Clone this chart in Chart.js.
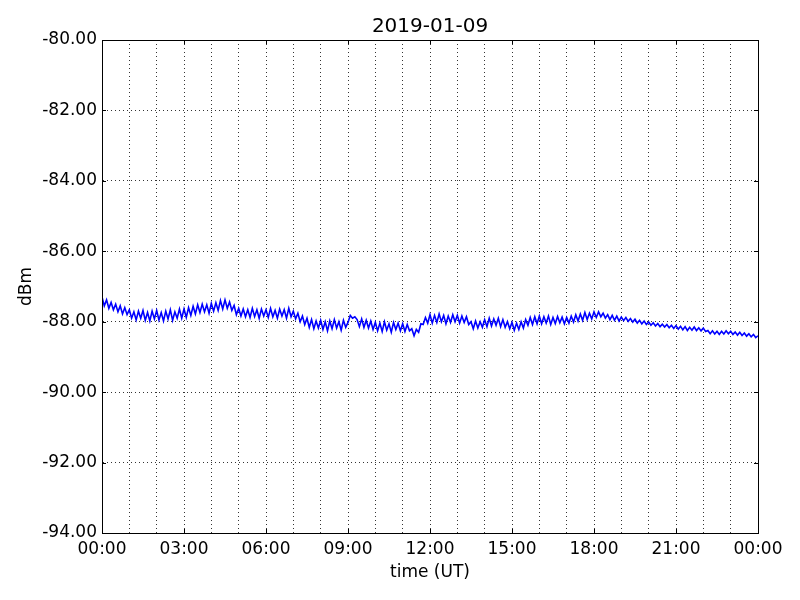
<!DOCTYPE html>
<html lang="en">
<head>
  <meta charset="UTF-8">
  <title>2019-01-09 dBm</title>
  <script src="https://cdn.jsdelivr.net/npm/chart.js"></script>
  <style>
    body { margin: 0; background: #fff; }
  </style>
</head>
<body>
  <canvas id="levelChart" width="800" height="600"></canvas>

  <script>
    // signal level, one reading every 5 minutes (00:00 .. 24:00 UT)
    const stepMinutes = 5;
    const levels00to06 = [
      -87.30, -87.55, -87.38, -87.62, -87.45, -87.66, -87.50, -87.72, -87.55, -87.78, -87.60, -87.80,
      -87.66, -87.90, -87.72, -87.95, -87.70, -87.90, -87.68, -87.96, -87.74, -87.98, -87.70, -87.92,
      -87.68, -87.95, -87.74, -87.98, -87.70, -87.92, -87.66, -87.96, -87.72, -87.90, -87.64, -87.90,
      -87.64, -87.88, -87.60, -87.82, -87.56, -87.78, -87.52, -87.74, -87.50, -87.72, -87.52, -87.76,
      -87.48, -87.70, -87.46, -87.68, -87.40, -87.64, -87.38, -87.62, -87.44, -87.68, -87.54, -87.80,
      -87.62, -87.84, -87.64, -87.86, -87.66, -87.88, -87.62, -87.85, -87.66, -87.90, -87.64, -87.84
    ];
    const levels06to12 = [
      -87.66, -87.88, -87.62, -87.86, -87.68, -87.90, -87.64, -87.84, -87.66, -87.90, -87.62, -87.86,
      -87.70, -87.92, -87.76, -88.00, -87.84, -88.08, -87.90, -88.16, -87.94, -88.20, -87.98, -88.18,
      -87.96, -88.22, -88.00, -88.26, -87.98, -88.20, -87.94, -88.18, -88.00, -88.24, -87.96, -88.16,
      -88.02, -87.82, -87.90, -87.86, -87.94, -88.14, -87.92, -88.16, -87.96, -88.18, -87.98, -88.22,
      -88.02, -88.26, -88.04, -88.28, -88.00, -88.24, -88.06, -88.30, -88.02, -88.22, -88.04, -88.26,
      -88.06, -88.28, -88.08, -88.26, -88.20, -88.40, -88.22, -88.30, -88.06, -88.08, -87.88, -88.04
    ];
    const levels12to18 = [
      -87.80, -88.04, -87.82, -88.02, -87.78, -88.00, -87.82, -88.06, -87.84, -88.02, -87.80, -88.00,
      -87.82, -88.04, -87.84, -88.02, -87.86, -88.08, -88.00, -88.20, -87.98, -88.18, -88.00, -88.16,
      -87.94, -88.14, -87.90, -88.12, -87.92, -88.10, -87.90, -88.14, -87.94, -88.16, -88.00, -88.20,
      -88.02, -88.24, -88.04, -88.22, -88.00, -88.18, -87.94, -88.10, -87.88, -88.08, -87.86, -88.06,
      -87.84, -88.06, -87.86, -88.04, -87.84, -88.08, -87.88, -88.05, -87.85, -88.03, -87.87, -88.06,
      -87.88, -88.04, -87.84, -88.01, -87.80, -87.98, -87.78, -87.96, -87.74, -87.94, -87.76, -87.92
    ];
    const levels18to24 = [
      -87.72, -87.88, -87.72, -87.86, -87.76, -87.90, -87.80, -87.94, -87.82, -87.96, -87.84, -87.98,
      -87.87, -87.97, -87.88, -87.99, -87.91, -88.01, -87.93, -88.04, -87.96, -88.06, -87.98, -88.08,
      -88.01, -88.10, -88.03, -88.12, -88.05, -88.14, -88.07, -88.15, -88.08, -88.17, -88.10, -88.19,
      -88.11, -88.21, -88.13, -88.23, -88.14, -88.25, -88.16, -88.24, -88.15, -88.25, -88.17, -88.26,
      -88.18, -88.28, -88.25, -88.34, -88.26, -88.35, -88.27, -88.36, -88.27, -88.35, -88.26, -88.34,
      -88.27, -88.36, -88.29, -88.38, -88.30, -88.39, -88.32, -88.41, -88.34, -88.43, -88.36, -88.45,
      -88.40
    ];
    const xTickLabels = ['00:00', '03:00', '06:00', '09:00', '12:00', '15:00', '18:00', '21:00', '00:00'];

    const levels = [].concat(levels00to06, levels06to12, levels12to18, levels18to24);
    const points = levels.map((v, i) => ({ x: i * stepMinutes / 60, y: v }));

    const FONT = 'DejaVu Sans';

    // matplotlib-like frame, inward ticks and title
    const framePlugin = {
      id: 'frame',
      afterDraw(chart) {
        const { ctx, chartArea: a, scales } = chart;
        ctx.save();
        ctx.strokeStyle = '#000';
        ctx.lineWidth = 1;
        ctx.strokeRect(a.left + 0.5, a.top + 0.5, a.right - a.left, a.bottom - a.top);
        ctx.beginPath();
        for (let h = 0; h <= 24; h += 3) {
          const x = Math.round(scales.x.getPixelForValue(h)) + 0.5;
          ctx.moveTo(x, a.bottom); ctx.lineTo(x, a.bottom - 4);
          ctx.moveTo(x, a.top); ctx.lineTo(x, a.top + 4);
        }
        for (let v = -94; v <= -80; v += 2) {
          const y = Math.round(scales.y.getPixelForValue(v)) + 0.5;
          ctx.moveTo(a.left, y); ctx.lineTo(a.left + 4, y);
          ctx.moveTo(a.right, y); ctx.lineTo(a.right - 4, y);
        }
        ctx.stroke();
        ctx.fillStyle = '#000';
        ctx.font = '20px "' + FONT + '"';
        ctx.textAlign = 'center';
        ctx.textBaseline = 'middle';
        ctx.fillText('2019-01-09', (a.left + a.right) / 2, 27);
        ctx.restore();
      }
    };

    const ctx = document.getElementById('levelChart').getContext('2d');
    new Chart(ctx, {
      type: 'line',
      data: {
        datasets: [{
          data: points,
          borderColor: '#0000ff',
          borderWidth: 1.6,
          pointRadius: 0,
          tension: 0,
          fill: false
        }]
      },
      options: {
        responsive: false,
        animation: false,
        layout: { padding: { top: 40, right: 42, left: 0, bottom: 0 } },
        plugins: {
          legend: { display: false },
          tooltip: { enabled: false }
        },
        scales: {
          x: {
            type: 'linear',
            min: 0,
            max: 24,
            afterFit: s => { s.height = 67; },
            ticks: {
              stepSize: 1,
              autoSkip: false,
              maxRotation: 0,
              padding: 6,
              color: '#000',
              font: { family: FONT, size: 17 },
              callback: v => (v % 3 === 0 ? xTickLabels[v / 3] : '')
            },
            grid: {
              color: '#000',
              lineWidth: 0.8,
              drawTicks: false
            },
            border: { display: true, color: '#000', dash: [1, 3] },
            title: {
              display: true,
              text: 'time (UT)',
              color: '#000',
              font: { family: FONT, size: 17 },
              padding: { top: 4, bottom: 17 }
            }
          },
          y: {
            min: -94,
            max: -80,
            afterFit: s => { s.width = 102; },
            ticks: {
              stepSize: 2,
              padding: 5,
              color: '#000',
              font: { family: FONT, size: 17 },
              callback: v => v.toFixed(2)
            },
            grid: {
              color: '#000',
              lineWidth: 0.8,
              drawTicks: false
            },
            border: { display: true, color: '#000', dash: [1, 3] },
            title: {
              display: true,
              text: 'dBm',
              color: '#000',
              font: { family: FONT, size: 17 },
              padding: { top: 16, bottom: 4 }
            }
          }
        }
      },
      plugins: [framePlugin]
    });
  </script>
</body>
</html>
